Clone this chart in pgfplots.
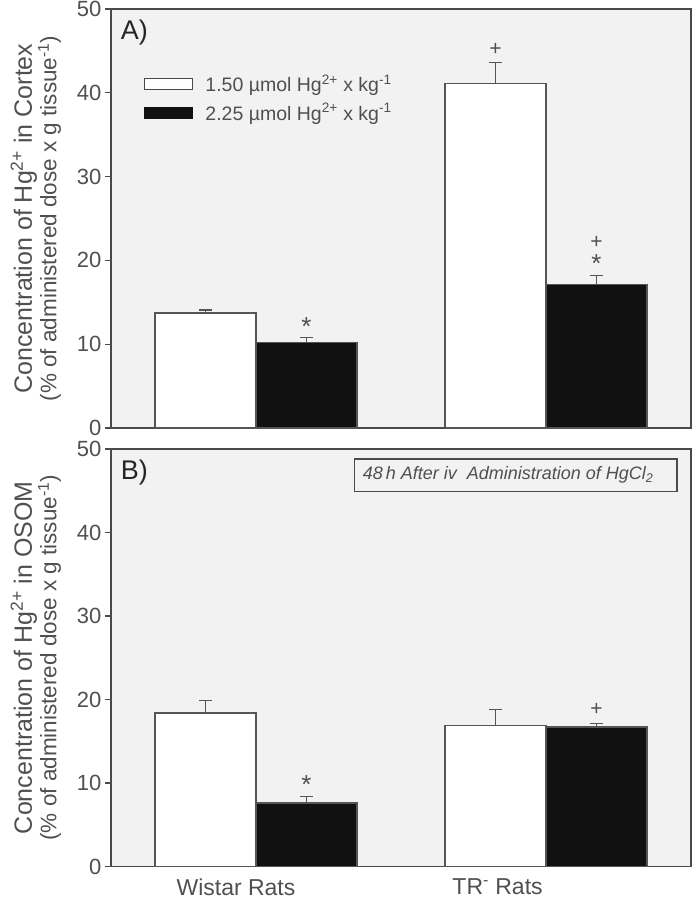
\documentclass[border=0pt]{standalone}
\usepackage{fontspec}
\setmainfont{Liberation Sans}
\usepackage{pgfplots}
\pgfplotsset{compat=1.18}
\definecolor{bggray}{HTML}{F2F2F2}
\definecolor{axgray}{HTML}{4A4A4A}
\definecolor{txtgray}{HTML}{505050}
\definecolor{barline}{HTML}{555555}
\definecolor{barblack}{HTML}{111111}
\pgfplotsset{
  panel/.style={
    scale only axis, width=580pt,
    xmin=-0.5, xmax=1.5, ymin=0, ymax=50,
    ytick={0,10,20,30,40,50},
    axis background/.style={fill=bggray},
    axis line style={draw=axgray, line width=1.3pt},
    tick pos=left, tick align=outside,
    major tick length=6pt,
    ytick style={draw=axgray, line width=1.3pt},
    xtick style={draw=none},
    /pgf/number format/assume math mode=true,
    tick label style={font=\fontsize{22}{22}\selectfont, text=txtgray},
    ylabel style={align=center, at={(axis description cs:-0.08,0.5)}, anchor=south, rotate=0, text=txtgray},
    clip=false,
  },
  errstyle/.style={
    error bars/y dir=plus, error bars/y explicit,
    error bars/error bar style={line width=1.5pt, draw=barline},
    error bars/error mark options={rotate=90, mark size=6.5pt, line width=1.5pt, draw=barline}},
  whitebar/.style={ybar, bar width=101pt, bar shift=0pt, fill=white, draw=barline, line width=1.5pt, errstyle},
  blackbar/.style={ybar, bar width=101pt, bar shift=0pt, fill=barblack, draw=barline, line width=1.5pt, errstyle},
  signif/.style={only marks, mark=none, nodes near coords, point meta=explicit symbolic,
    nodes near coords style={anchor=center, font=\fontsize{21}{21}\selectfont, text=txtgray}},
  star/.style={only marks, mark=none, nodes near coords, point meta=explicit symbolic,
    nodes near coords style={anchor=center, font=\fontsize{26}{26}\selectfont, text=txtgray}},
}
\begin{document}
\begin{tikzpicture}
\useasboundingbox (0pt,0pt) rectangle (693pt,900pt);
% ---------- Panel A ----------
\begin{axis}[panel, at={(111pt,472pt)}, anchor=south west, height=419pt,
  xtick=\empty,
  ylabel={\fontsize{25}{27}\selectfont Concentration of Hg\textsuperscript{2+} in Cortex\\\fontsize{22.5}{27}\selectfont (\% of administered dose x g tissue\textsuperscript{-1})},
  legend style={at={(axis description cs:0.057,0.848)}, anchor=north west, draw=none, fill=none,
    font=\fontsize{19.5}{20}\selectfont, text=txtgray, inner sep=0pt, row sep=6pt,
    /tikz/every odd column/.append style={column sep=10pt}},
  legend cell align=left,
]
\addlegendimage{legend image code/.code={\draw[fill=white, draw=axgray, line width=1.2pt] (0pt,-5.5pt) rectangle (48pt,5.5pt);}}
\addlegendentry{1.50 µmol Hg\textsuperscript{2+} x kg\textsuperscript{-1}}
\addlegendimage{legend image code/.code={\draw[fill=barblack, draw=barblack, line width=1.2pt] (0pt,-5.5pt) rectangle (48pt,5.5pt);}}
\addlegendentry{2.25 µmol Hg\textsuperscript{2+} x kg\textsuperscript{-1}}
\addplot[forget plot, whitebar] coordinates {(-0.1741,13.7) +- (0,0.4) (0.8259,41.1) +- (0,2.5)};
\addplot[forget plot, blackbar] coordinates {(0.1741,10.2) +- (0,0.6) (1.1741,17.1) +- (0,1.1)};
\addplot[forget plot, signif] table[meta=t] {
x y t
0.8259 45.2 +
1.1741 22.2 +
};
\addplot[forget plot, star] table[meta=t] {
x y t
0.1741 12.1 *
1.1741 19.6 *
};
\node[anchor=west, font=\fontsize{27}{27}\selectfont, text=black!85] at (axis description cs:0.011,0.944) {A)};
\end{axis}
% ---------- Panel B ----------
\begin{axis}[panel, at={(111pt,33.5pt)}, anchor=south west, height=417.5pt,
  xtick={-0.069,0.833}, xticklabels={Wistar Rats, TR\textsuperscript{-} Rats},
  xticklabel style={font=\fontsize{23}{23}\selectfont, text=txtgray, yshift=-3pt},
  ylabel={\fontsize{25}{27}\selectfont Concentration of Hg\textsuperscript{2+} in OSOM\\\fontsize{22.5}{27}\selectfont (\% of administered dose x g tissue\textsuperscript{-1})},
]
\addplot[whitebar] coordinates {(-0.1741,18.4) +- (0,1.5) (0.8259,16.9) +- (0,1.9)};
\addplot[blackbar] coordinates {(0.1741,7.6) +- (0,0.8) (1.1741,16.7) +- (0,0.4)};
\addplot[signif] table[meta=t] {
x y t
1.1741 18.85 +
};
\addplot[star] table[meta=t] {
x y t
0.1741 9.8 *
};
\node[anchor=west, font=\fontsize{27}{27}\selectfont, text=black!85] at (axis description cs:0.011,0.944) {B)};
\draw[draw=axgray, fill=bggray, line width=1.2pt] (axis description cs:0.42,0.899) rectangle (axis description cs:0.976,0.976);
\node[anchor=west, font=\itshape\fontsize{18}{18}\selectfont, text=txtgray] at (axis description cs:0.428,0.9375) {48\,h After iv\ \ Administration of HgCl\textsubscript{2}};
\end{axis}
\end{tikzpicture}
\end{document}
